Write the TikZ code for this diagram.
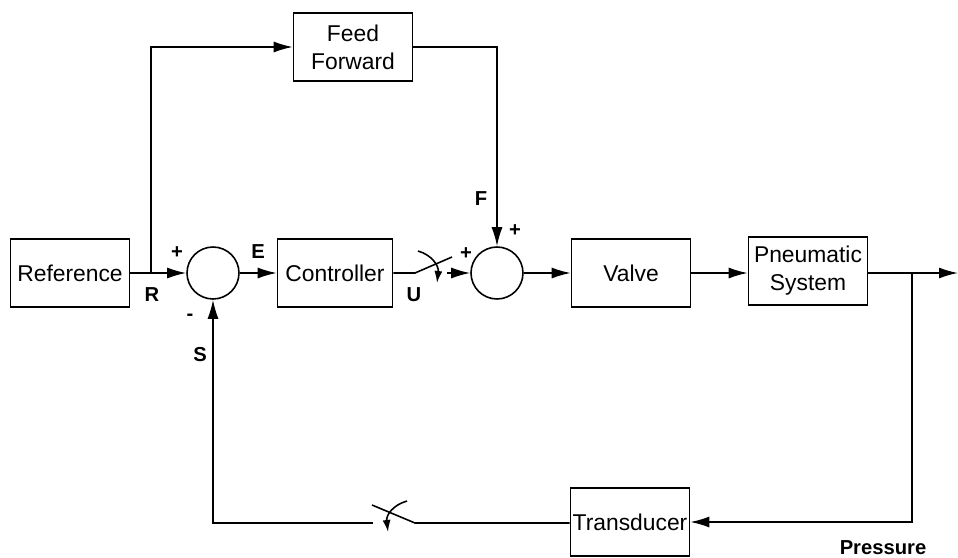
\documentclass[tikz,border=0pt]{standalone}
\usepackage{fontspec}
\setmainfont{Liberation Sans}
\usepackage{tikz}
\usetikzlibrary{positioning,arrows.meta}

\begin{document}
\begin{tikzpicture}[x=0.02cm,y=-0.02cm,
			line width=0.9pt,
			>={Latex[length=0.38cm,width=0.22cm]},
			block/.style={
				draw,
				minimum width=2.38cm,
				minimum height=1.36cm,
				inner sep=1pt,
				align=center,
				font=\fontsize{13}{16}\selectfont
			},
			sum/.style={draw,circle,minimum size=1.04cm,inner sep=0pt},
			swarrow/.style={-{Latex[length=0.24cm,width=0.16cm]}},
			lbl/.style={font=\fontsize{11.5}{13}\selectfont\bfseries,inner sep=0pt}]
			
			\useasboundingbox (0,0) rectangle (958,558);
			
			\node(ref)[block] at (70,273){Reference};
			
			\node(ff)[block] at (353,47){Feed\\Forward};
			
			\node(sumA)[sum] at (213,273){};
			
			\node(ctrl)[block,minimum width=2.3cm] at (335,273){Controller};
			
			\node(sumB)[sum] at (497,273){};
			
			\node(valve)[block] at (631,273){Valve};
			
			\node(pneu)[block] at (808,271){Pneumatic\\System};
			
			\node(trans)[block] at (630,522){Transducer};
			
			\coordinate(rsplit) at (151,273);
			\coordinate(swAa) at (415,273);
			\coordinate(swAb) at (452,257);
			\coordinate(swAc) at (447,273);
			\coordinate(psplit) at (912,273);
			\coordinate(out) at (958,273);
			\coordinate(swBa) at (415,523);
			\coordinate(swBb) at (372,505);
			\coordinate(swBc) at (373,523);
			
			\draw[->](ref.east|-rsplit)--(sumA.west);
			
			\draw[->](rsplit)|-(ff.west);
			
			\draw[->](ff.east)-|(sumB.north);
			
			\draw[->](sumA.east)--(ctrl.west);
			
			\draw(ctrl.east|-swAa)--(swAa)--(swAb);
			
			\draw[swarrow](418,251) .. controls (432,255) and (439,266) .. (437,283);
			
			\draw[->](swAc)--(sumB.west);
			
			\draw[->](sumB.east)--(valve.west);
			
			\draw[->](valve.east)--(pneu.west|-valve.east);
			
			\draw[->](pneu.east|-psplit)--(out);
			
			\draw[->](psplit)|-(trans.east);
			
			\draw(trans.west|-swBa)--(swBa)--(swBb);
			
			\draw[swarrow](407,501) .. controls (393,505) and (386,515) .. (388,532);
			
			\draw[->](swBc)-|(sumA.south);
			
			\node[lbl] at (177,253){+};
			\node[lbl] at (152,295){R};
			\node[lbl] at (190,317){-};
			\node[lbl] at (200,355){S};
			\node[lbl] at (258,252){E};
			\node[lbl] at (414,295){U};
			\node[lbl] at (466,254){+};
			\node[lbl] at (481,199){F};
			\node[lbl] at (515,231){+};
			\node[lbl] at (883,548){Pressure};
			
		\end{tikzpicture}
\end{document}
